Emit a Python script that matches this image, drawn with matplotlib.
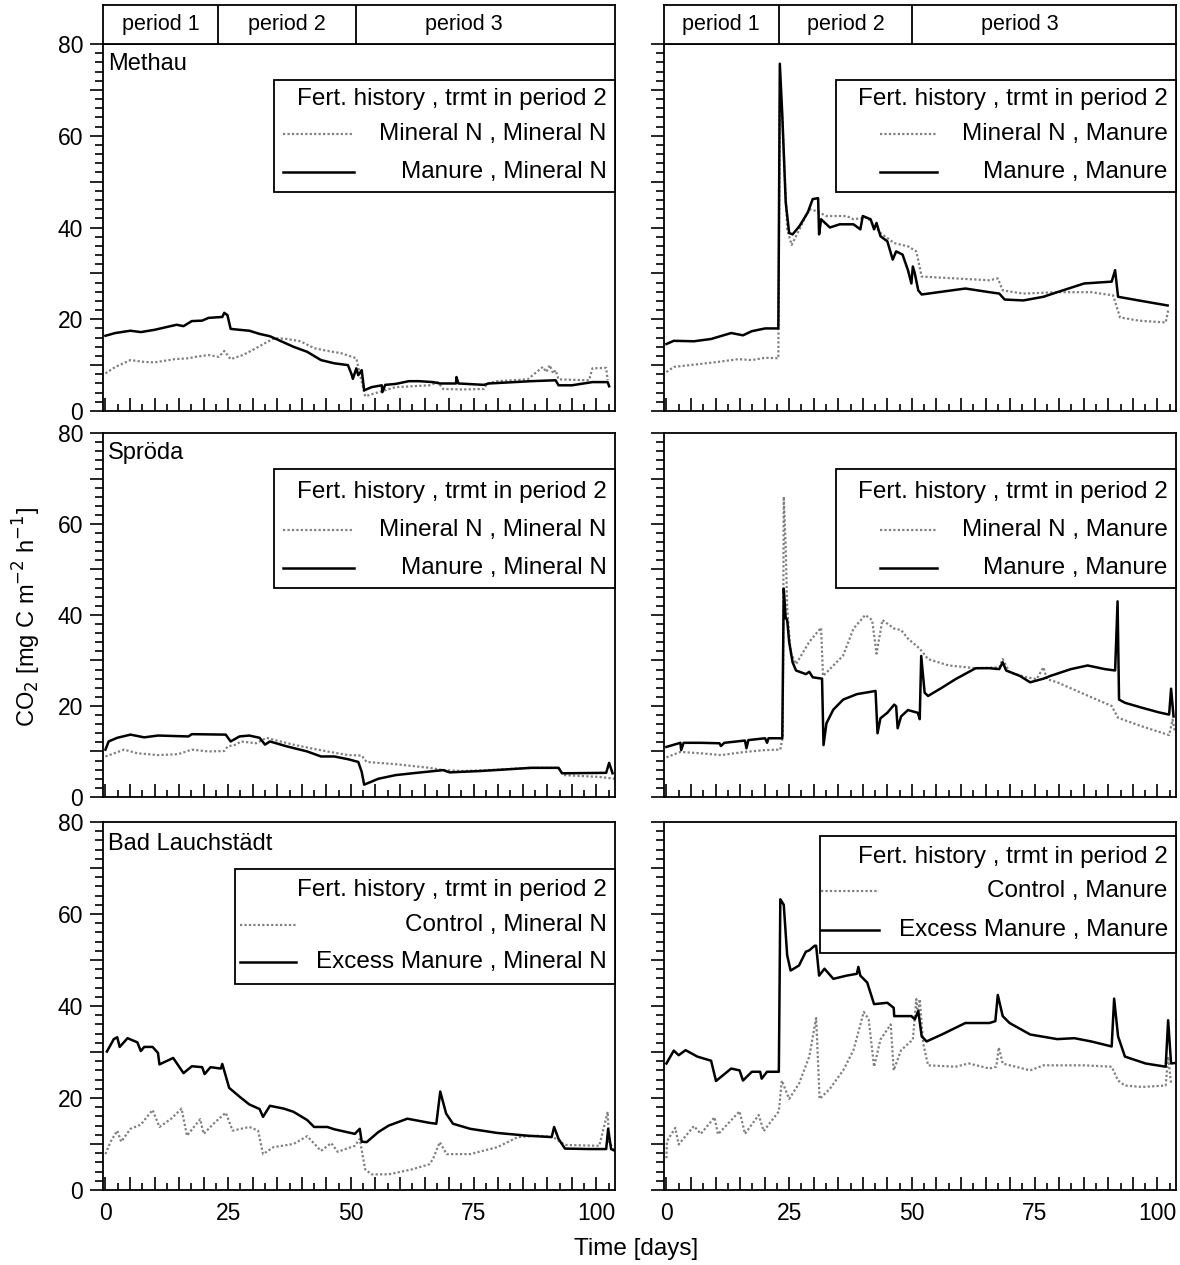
import matplotlib.pyplot as plt
from matplotlib.ticker import MultipleLocator, FuncFormatter
from matplotlib.patches import Rectangle
from matplotlib.lines import Line2D

plt.rcParams['font.family'] = ['Liberation Sans', 'DejaVu Sans']

# Methau, trmt Mineral N in period 2
meth_mn_day = [0, 2.0, 5.1, 7.9, 10.0, 14.1, 16.9, 18.3, 21.0, 23.1, 24.2, 25.5, 28.0, 30.7, 32.5, 34.5,
               37.0, 39.7, 42.5, 45.2, 48.0, 51.1, 51.8, 52.9, 55.6, 59.1, 66.0, 67.7, 68.8, 72.9, 77.1,
               77.7, 79.8, 86.0, 89.1, 89.8, 90.5, 91.2, 91.7, 92.3, 98.5, 99.2, 102.0, 102.3]
meth_mn_co2 = [8.2, 9.6, 11.1, 10.7, 10.6, 11.3, 11.5, 11.8, 12.2, 11.8, 13.1, 11.3, 12.2, 13.7, 14.8, 15.9,
               15.7, 15.2, 13.7, 13.1, 12.6, 11.5, 8.2, 3.2, 4.1, 5.2, 5.6, 6.3, 4.8, 4.7, 4.8,
               6.0, 6.5, 6.9, 9.6, 8.5, 10.0, 8.2, 8.9, 6.9, 6.7, 9.3, 9.4, 6.7]
meth_man_day = [0, 2.0, 5.1, 7.2, 10.0, 14.5, 15.9, 17.6, 19.7, 21.0, 23.8, 24.2, 24.85, 25.5, 27.3, 29.3,
                31.4, 33.5, 35.6, 38.3, 41.1, 43.9, 46.6, 49.4, 50.1, 50.4, 51.1, 51.5, 52.2, 52.7, 54.2,
                56.3, 56.4, 57.0, 59.1, 61.8, 63.9, 66.7, 68.1, 71.4, 71.5, 71.9, 77.1, 78.1, 83.3, 86.7,
                91.7, 92.3, 95.0, 99.2, 102.3, 102.6]
meth_man_co2 = [16.4, 17.0, 17.5, 17.2, 17.7, 18.8, 18.5, 19.6, 19.7, 20.3, 20.5, 21.4, 20.9, 17.9, 17.7, 17.5,
                16.8, 16.3, 15.3, 14.0, 12.9, 11.1, 10.4, 10.0, 8.1, 7.0, 9.3, 7.8, 8.9, 4.5, 5.2,
                5.6, 4.1, 5.7, 5.9, 6.5, 6.5, 6.3, 6.0, 6.0, 7.4, 6.0, 5.7, 6.0, 6.3, 6.5,
                6.7, 5.6, 5.6, 6.3, 6.3, 5.4]

# Methau, trmt Manure in period 2
meth2_mn_day = [0, 1.5, 5.6, 10.5, 14.6, 17.4, 20.1, 22.8, 23.1, 23.6, 24.6, 25.5, 27.1, 29.1, 30.5, 32.6,
                36.7, 38.1, 40.9, 43.6, 46.4, 49.2, 50.9, 52.0, 58.9, 65.8, 67.5, 68.5, 72.7, 79.6, 86.5,
                91.0, 92.4, 96.2, 101.7, 102.2]
meth2_mn_co2 = [8.5, 9.6, 10.1, 10.7, 11.3, 11.1, 11.6, 11.5, 68.0, 63.9, 39.6, 36.2, 39.6, 44.0, 43.6, 42.5,
                42.5, 41.8, 42.2, 38.8, 36.6, 35.9, 34.8, 29.3, 28.9, 28.5, 28.9, 26.3, 25.6, 25.9, 25.9,
                25.2, 20.4, 19.7, 19.3, 21.9]
meth2_man_day = [0, 1.5, 5.6, 9.1, 13.2, 15.6, 17.4, 20.1, 22.8, 23.1, 23.6, 24.3, 25.0, 25.7, 27.1, 28.8,
                 29.8, 30.9, 31.1, 31.5, 33.3, 35.3, 38.1, 39.5, 40.0, 41.6, 42.3, 42.8, 43.6, 45.0, 46.1,
                 46.8, 48.1, 49.2, 49.9, 50.2, 50.6, 51.3, 52.0, 55.4, 60.9, 65.8, 67.8, 68.9, 72.7, 76.8,
                 79.6, 85.1, 90.7, 91.4, 92.0, 96.2, 102.1]
meth2_man_co2 = [14.6, 15.3, 15.2, 15.7, 17.0, 16.5, 17.4, 18.0, 18.0, 75.7, 64.6, 45.5, 38.8, 38.5, 40.3, 43.3,
                 46.2, 46.4, 38.5, 41.8, 40.0, 40.7, 40.7, 39.6, 42.5, 41.8, 39.6, 41.0, 38.1, 37.0, 33.0,
                 34.8, 34.1, 30.7, 27.8, 31.5, 30.0, 26.3, 25.4, 25.9, 26.7, 25.9, 25.6, 24.3, 24.1, 24.9,
                 25.9, 27.8, 28.2, 30.7, 24.9, 24.1, 23.0]

# Sproda, trmt Mineral N in period 2
spr_mn_day = [0, 3.8, 6.5, 10.7, 14.8, 17.6, 21.0, 24.2, 24.9, 26.6, 27.6, 30.7, 32.8, 35.6, 38.3, 41.8,
              45.2, 49.4, 52.2, 53.2, 59.1, 66.0, 68.8, 72.9, 79.8, 86.7, 92.3, 93.3, 100.6, 103.7]
spr_mn_co2 = [8.9, 10.4, 9.6, 9.2, 9.4, 10.4, 10.0, 10.1, 11.1, 11.5, 12.2, 11.8, 13.0, 12.2, 11.5, 10.7,
              10.0, 9.2, 9.1, 7.7, 7.2, 6.4, 5.9, 5.7, 6.0, 6.4, 6.4, 4.8, 4.4, 4.0]
spr_man_day = [0, 0.65, 2.4, 5.1, 7.9, 10.7, 16.9, 17.6, 24.5, 25.5, 27.3, 29.3, 31.4, 32.5, 33.5, 37.0,
               41.1, 43.9, 46.6, 49.4, 51.5, 52.2, 52.7, 55.6, 59.1, 62.5, 68.8, 70.1, 76.4, 86.7, 92.3,
               93.0, 102.0, 102.6, 103.3]
spr_man_co2 = [10.4, 12.2, 13.0, 13.7, 13.1, 13.5, 13.3, 13.8, 13.7, 12.2, 13.3, 13.5, 13.0, 11.5, 12.2, 11.1,
               10.0, 8.9, 8.9, 8.3, 7.7, 5.5, 2.7, 4.0, 4.8, 5.2, 5.9, 5.4, 5.7, 6.4, 6.4,
               5.2, 5.3, 7.5, 5.2]

# Sproda, trmt Manure in period 2
spr2_mn_day = [0, 2.85, 7.0, 11.1, 16.0, 20.1, 23.2, 23.7, 23.9, 24.3, 24.6, 25.3, 26.4, 29.1, 31.5, 31.9,
               33.3, 36.0, 38.1, 40.5, 41.9, 42.8, 44.0, 46.4, 47.8, 49.2, 51.6, 53.3, 57.5, 63.0, 67.8,
               68.5, 69.9, 73.4, 75.4, 76.8, 77.5, 79.6, 85.1, 90.7, 92.0, 96.9, 102.4, 103.1, 103.6]
spr2_mn_co2 = [8.7, 9.9, 9.6, 9.2, 9.9, 10.3, 10.4, 13.3, 66.0, 54.9, 41.5, 31.8, 29.2, 34.1, 37.2, 26.6,
               28.1, 31.1, 37.0, 40.0, 38.9, 31.5, 38.9, 37.0, 36.7, 34.8, 32.6, 30.3, 28.9, 28.3, 28.5,
               30.3, 27.4, 26.3, 25.9, 28.5, 25.9, 25.2, 22.6, 20.0, 17.4, 15.5, 13.6, 17.0, 14.2]
spr2_man_day = [0, 2.85, 3.0, 3.5, 7.0, 10.8, 11.1, 11.8, 16.0, 16.3, 16.7, 20.1, 20.5, 20.8, 23.6, 23.9,
                24.3, 24.6, 25.0, 25.7, 26.4, 28.4, 29.1, 29.8, 31.7, 32.0, 32.6, 34.0, 36.0, 38.8, 42.6,
                43.0, 43.6, 45.0, 46.4, 46.8, 47.1, 47.8, 49.2, 51.2, 51.6, 51.9, 52.6, 53.3, 56.1, 58.9,
                63.0, 65.8, 67.8, 68.5, 69.2, 72.0, 74.1, 76.8, 78.2, 82.4, 85.8, 89.3, 91.4, 91.9, 92.2,
                93.4, 96.9, 100.3, 102.4, 102.8, 103.3]
spr2_man_co2 = [11.0, 11.9, 10.3, 11.9, 11.9, 11.8, 11.2, 11.9, 12.4, 10.7, 12.5, 12.9, 11.9, 12.9, 12.9, 45.8,
                39.3, 38.9, 34.1, 29.6, 27.8, 27.0, 27.5, 26.3, 26.0, 11.4, 16.2, 19.2, 21.4, 22.6, 23.3,
                14.0, 17.3, 18.5, 20.3, 19.9, 15.1, 17.7, 19.1, 18.5, 17.1, 31.0, 22.9, 22.2, 24.0, 25.9,
                28.3, 28.3, 28.1, 29.6, 27.8, 26.6, 25.2, 26.0, 26.6, 28.1, 28.9, 28.1, 27.8, 43.0, 21.4,
                20.7, 19.6, 18.6, 18.1, 23.8, 17.7]

# Bad Lauchstaedt, trmt Mineral N in period 2
bl_ctl_day = [0, 1.0, 2.4, 3.2, 5.1, 7.2, 9.6, 11.0, 13.4, 15.5, 16.6, 19.3, 20.0, 22.4, 24.5, 25.9,
              29.3, 31.1, 32.1, 34.2, 38.3, 41.1, 43.9, 46.0, 47.3, 50.8, 51.8, 52.9, 54.2, 57.7, 62.5,
              66.0, 66.7, 68.1, 69.5, 74.3, 79.8, 84.0, 88.1, 91.2, 93.6, 100.6, 102.3, 102.6, 103.7]
bl_ctl_co2 = [7.8, 10.4, 12.9, 10.5, 13.3, 14.2, 17.4, 13.7, 15.5, 17.7, 11.8, 15.4, 12.2, 14.8, 16.8, 12.9,
              13.7, 12.9, 7.8, 9.3, 10.0, 11.7, 8.5, 10.2, 8.3, 9.6, 11.1, 4.5, 3.4, 3.4, 4.5,
              5.6, 6.7, 10.4, 7.8, 7.8, 9.3, 11.5, 11.8, 11.5, 9.8, 9.6, 17.0, 10.4, 8.5]
bl_exc_day = [0.3, 1.7, 2.4, 2.9, 4.5, 6.5, 7.2, 7.9, 9.6, 10.7, 11.0, 13.8, 15.9, 17.6, 19.7, 20.2,
              21.4, 23.5, 23.8, 25.2, 27.3, 29.3, 31.4, 32.1, 33.5, 36.3, 38.3, 41.1, 42.5, 45.2, 46.6,
              50.8, 51.8, 52.2, 53.2, 55.6, 57.7, 61.5, 66.0, 67.4, 68.2, 69.4, 70.8, 74.3, 79.8, 86.0,
              90.9, 91.4, 92.3, 93.6, 98.5, 102.0, 102.4, 103.0, 103.6]
bl_exc_co2 = [30.1, 32.8, 33.2, 31.1, 33.0, 32.1, 30.2, 31.1, 31.1, 29.8, 27.3, 28.7, 25.4, 26.9, 26.7, 25.2,
              26.7, 26.4, 27.4, 22.2, 20.3, 18.6, 17.6, 15.9, 18.3, 17.7, 17.0, 15.2, 13.7, 13.7, 13.2,
              12.2, 13.3, 10.5, 10.4, 12.6, 14.0, 15.5, 14.6, 14.4, 21.4, 16.6, 14.4, 13.3, 12.4, 11.8,
              11.5, 13.7, 11.1, 9.0, 8.9, 8.9, 13.3, 8.9, 8.6]

# Bad Lauchstaedt, trmt Manure in period 2
bl2_ctl_day = [0, 0.1, 1.8, 2.5, 5.6, 7.0, 9.8, 10.5, 14.9, 16.0, 18.8, 19.8, 22.9, 23.5, 25.0, 27.0,
               29.1, 30.5, 31.2, 33.3, 36.0, 38.1, 40.2, 41.2, 42.3, 43.6, 45.7, 46.3, 47.8, 50.2, 50.9,
               51.3, 51.6, 52.3, 53.3, 58.9, 61.6, 65.8, 67.2, 67.7, 68.5, 74.1, 76.8, 85.1, 90.7, 92.0,
               93.4, 96.9, 101.7, 102.2, 102.8]
bl2_ctl_co2 = [6.9, 10.6, 13.5, 9.9, 13.9, 12.2, 15.8, 12.1, 17.1, 12.2, 16.3, 12.8, 17.1, 23.8, 19.8, 23.1,
               29.0, 37.4, 19.8, 22.0, 26.0, 30.4, 38.7, 37.1, 26.8, 32.7, 36.0, 26.0, 30.4, 32.7, 41.5,
               37.8, 41.5, 31.9, 27.1, 26.8, 27.5, 26.4, 26.8, 31.0, 27.5, 26.0, 27.1, 27.1, 26.8, 23.8,
               22.7, 22.4, 22.7, 29.0, 23.1]
bl2_exc_day = [0, 1.5, 2.5, 3.9, 6.3, 9.1, 10.1, 13.2, 14.9, 15.6, 17.4, 19.1, 19.4, 20.5, 22.9, 23.2,
               23.9, 24.6, 25.3, 27.0, 28.4, 29.1, 30.2, 30.5, 31.1, 32.2, 34.0, 36.7, 38.8, 39.1, 39.5,
               40.9, 42.3, 45.0, 46.3, 46.4, 49.9, 50.6, 51.3, 52.0, 53.0, 56.1, 60.9, 65.8, 67.0, 67.5,
               68.5, 69.9, 74.1, 79.6, 83.1, 86.5, 90.7, 91.2, 92.0, 93.4, 97.6, 101.7, 102.2, 102.8, 103.5]
bl2_exc_co2 = [27.5, 30.3, 29.3, 30.4, 29.0, 28.1, 23.7, 26.4, 26.0, 23.8, 25.7, 25.7, 24.2, 25.7, 25.7, 63.2,
               62.0, 51.0, 47.7, 48.8, 51.8, 52.1, 53.1, 53.1, 46.6, 48.1, 45.9, 46.6, 47.0, 48.5, 46.6,
               45.1, 40.4, 40.7, 39.6, 37.8, 37.8, 37.1, 38.9, 33.4, 32.3, 33.8, 36.3, 36.3, 36.7, 42.4,
               37.8, 36.3, 33.8, 32.8, 33.0, 32.3, 31.2, 41.6, 33.4, 29.0, 27.5, 26.8, 36.9, 27.5, 27.6]

sites = ['Methau', 'Spröda', 'Bad Lauchstädt']
periods = ['period 1', 'period 2', 'period 3']
period_ends = [[23, 51], [23, 50]]
period_mid = [[11.3, 37, 73], [11.0, 36.5, 72]]
leg_title = 'Fert. history , trmt in period 2'
leg_labels = [
    [['Mineral N , Mineral N', 'Manure , Mineral N'], ['Mineral N , Manure', 'Manure , Manure']],
    [['Mineral N , Mineral N', 'Manure , Mineral N'], ['Mineral N , Manure', 'Manure , Manure']],
    [['Control , Mineral N', 'Excess Manure , Mineral N'], ['Control , Manure', 'Excess Manure , Manure']],
]
series = [
    [[(meth_mn_day, meth_mn_co2), (meth_man_day, meth_man_co2)],
     [(meth2_mn_day, meth2_mn_co2), (meth2_man_day, meth2_man_co2)]],
    [[(spr_mn_day, spr_mn_co2), (spr_man_day, spr_man_co2)],
     [(spr2_mn_day, spr2_mn_co2), (spr2_man_day, spr2_man_co2)]],
    [[(bl_ctl_day, bl_ctl_co2), (bl_exc_day, bl_exc_co2)],
     [(bl2_ctl_day, bl2_ctl_co2), (bl2_exc_day, bl2_exc_co2)]],
]

# legend boxes in axes fraction: box (x0, y0, x1, y1), title y, entry ys, handle x0, x1
leg_pos = [
    [((0.333, 0.597, 1.0, 0.902), 0.850, (0.755, 0.651), 0.35, 0.49),
     ((0.335, 0.597, 1.0, 0.902), 0.850, (0.755, 0.651), 0.422, 0.533)],
    [((0.333, 0.574, 1.0, 0.901), 0.838, (0.734, 0.629), 0.35, 0.49),
     ((0.335, 0.574, 1.0, 0.901), 0.838, (0.734, 0.629), 0.422, 0.533)],
    [((0.258, 0.560, 1.0, 0.872), 0.815, (0.720, 0.620), 0.266, 0.376),
     ((0.305, 0.644, 1.0, 0.962), 0.905, (0.813, 0.707), 0.307, 0.420)],
]

dot_style = dict(color='0.5', lw=1.6, ls=(0, (1, 1)))
solid_style = dict(color='black', lw=1.8)
xlim = (-0.4, 103.8)

col_left = [0.0877, 0.5631]
col_w = 0.4335
rows = [(0.6751, 0.2901), (0.3700, 0.2877), (0.0593, 0.2909)]

fig = plt.figure(figsize=(11.8, 12.65), dpi=100)

for r in range(3):
    for c in range(2):
        ax = fig.add_axes([col_left[c], rows[r][0], col_w, rows[r][1]])
        (dx, dy), (sx, sy) = series[r][c]
        ax.plot(dx, dy, **dot_style)
        ax.plot(sx, sy, **solid_style)
        ax.set_xlim(*xlim)
        ax.set_ylim(0, 80)
        for sp in ax.spines.values():
            sp.set_linewidth(1.3)
        ax.xaxis.set_major_locator(MultipleLocator(5))
        ax.xaxis.set_minor_locator(MultipleLocator(2.5))
        ax.yaxis.set_major_locator(MultipleLocator(10))
        ax.yaxis.set_minor_locator(MultipleLocator(2))
        ax.tick_params(axis='x', which='both', direction='in', width=1.2, pad=9, labelsize=16.5)
        ax.tick_params(axis='x', which='major', length=9.5)
        ax.tick_params(axis='x', which='minor', length=5)
        ax.tick_params(axis='y', which='both', direction='out', width=1.2, pad=5, labelsize=16.5)
        ax.tick_params(axis='y', which='major', length=9.5)
        ax.tick_params(axis='y', which='minor', length=5.5)
        ax.xaxis.set_major_formatter(FuncFormatter(lambda v, p: '%d' % v if v % 25 == 0 else ''))
        ax.yaxis.set_major_formatter(FuncFormatter(lambda v, p: '%d' % v if v % 20 == 0 else ''))
        if r < 2:
            ax.tick_params(axis='x', labelbottom=False)
        if c == 1:
            ax.tick_params(axis='y', labelleft=False)
        if c == 0:
            ax.text(0.009, 0.945 if r < 2 else 0.94, sites[r], transform=ax.transAxes,
                    fontsize=17, ha='left', va='center')

        (x0, y0, x1, y1), ty, eys, hx0, hx1 = leg_pos[r][c]
        ax.add_patch(Rectangle((x0, y0), x1 - x0, y1 - y0, transform=ax.transAxes,
                               fill=True, facecolor='white', edgecolor='black', lw=1.3,
                               zorder=5, clip_on=False))
        ax.text(0.984, ty, leg_title, transform=ax.transAxes, fontsize=17.5,
                ha='right', va='center', zorder=6)
        for k, st in enumerate([dot_style, solid_style]):
            ax.add_line(Line2D([hx0, hx1], [eys[k], eys[k]], transform=ax.transAxes,
                               zorder=6, **st))
            ax.text(0.984, eys[k], leg_labels[r][c][k], transform=ax.transAxes,
                    fontsize=17.5, ha='right', va='center', zorder=6)

        if r == 0:
            hx = fig.add_axes([col_left[c], 0.9652, col_w, 0.0308])
            hx.set_xlim(*xlim)
            hx.set_ylim(0, 1)
            hx.set_xticks([])
            hx.set_yticks([])
            for sp in hx.spines.values():
                sp.set_linewidth(1.3)
            for b in period_ends[c]:
                hx.axvline(b, color='black', lw=1.3)
            for k, name in enumerate(periods):
                hx.text(period_mid[c][k], 0.5, name, fontsize=15.5, ha='center', va='center')

fig.text(0.023, 0.512, 'CO$_2$ [mg C m$^{-2}$ h$^{-1}$]', rotation=90, fontsize=17,
         ha='center', va='center')
fig.text(0.539, 0.013, 'Time [days]', fontsize=17.5, ha='center', va='center')

plt.savefig('out.png', dpi=100)
